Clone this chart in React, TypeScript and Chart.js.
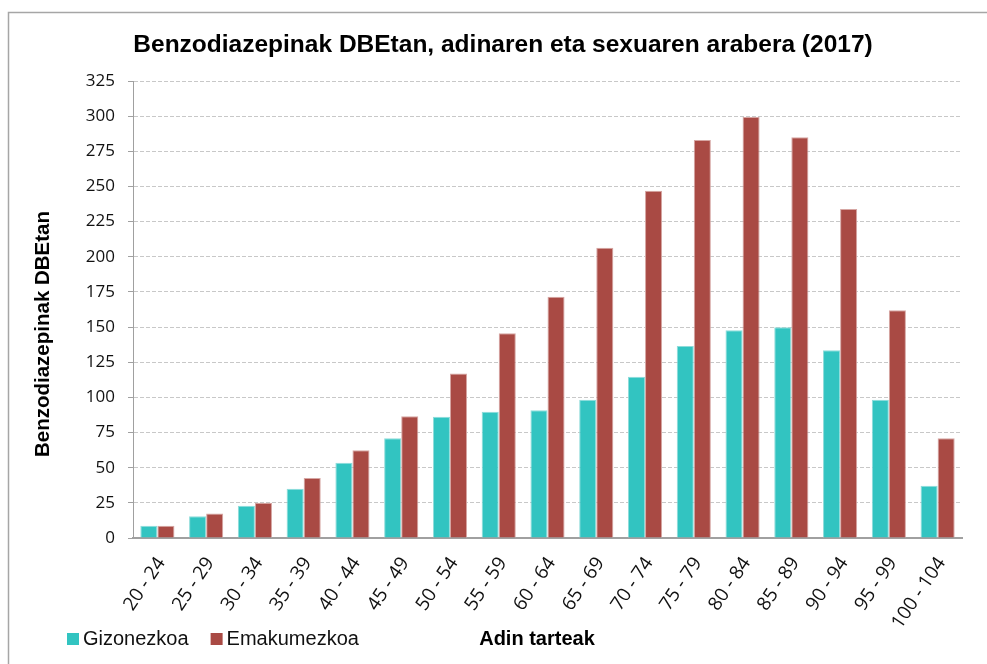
import React, { useEffect, useRef } from "react";
import { Chart, registerables } from "chart.js";

Chart.register(...registerables);

const categories = [
  "20 - 24", "25 - 29", "30 - 34", "35 - 39", "40 - 44", "45 - 49", "50 - 54", "55 - 59",
  "60 - 64", "65 - 69", "70 - 74", "75 - 79", "80 - 84", "85 - 89", "90 - 94", "95 - 99", "100 - 104",
];
const gizonezkoa = [8.8, 15.4, 23, 35, 53.5, 71, 86.3, 89.8, 90.8, 98.4, 114.7, 136.5, 147.7, 149.8, 133.5, 98.4, 37.2];
const emakumezkoa = [8.8, 17.5, 25, 42.7, 62.4, 86.5, 117, 145.6, 171.6, 206.5, 247, 283, 299.4, 285, 234, 162, 71];
const seriesNames = ["Gizonezkoa", "Emakumezkoa"];
const seriesColors = ["#32C4C1", "#A94A44"];
const seriesEdge = ["#8EDCDA", "#D6A6A3"];
const yMin = 0;
const yMax = 325;
const yStep = 25;
const titleText = "Benzodiazepinak DBEtan, adinaren eta sexuaren arabera (2017)";
const yTitleText = "Benzodiazepinak DBEtan";
const xTitleText = "Adin tarteak";

const ARIAL = '"Liberation Sans", Arial, sans-serif';
const TICKFONT = '"Open Sans", "Liberation Sans", sans-serif';

const decorPlugin = {
  id: "decor",
  beforeDraw(chart: any) {
    const ctx = chart.ctx;
    ctx.save();
    ctx.fillStyle = "#ffffff";
    ctx.fillRect(0, 0, chart.width, chart.height);
    ctx.strokeStyle = "#a6a6a6";
    ctx.lineWidth = 1.5;
    ctx.beginPath();
    ctx.moveTo(8.5, chart.height + 2);
    ctx.lineTo(8.5, 12.5);
    ctx.lineTo(chart.width + 2, 12.5);
    ctx.stroke();
    ctx.restore();
  },
  afterDraw(chart: any) {
    const ctx = chart.ctx;
    ctx.save();
    ctx.fillStyle = "#000000";
    ctx.textBaseline = "middle";
    ctx.textAlign = "center";
    ctx.font = "bold 24.5px " + ARIAL;
    ctx.fillText(titleText, 503, 45);

    // y axis title
    ctx.save();
    ctx.translate(43, 334);
    ctx.rotate(-Math.PI / 2);
    ctx.font = "bold 20.5px " + ARIAL;
    ctx.fillText(yTitleText, 0, 0);
    ctx.restore();

    // legend
    ctx.textAlign = "left";
    ctx.font = "20px " + ARIAL;
    let x = 67;
    chart.data.datasets.forEach((ds: any) => {
      ctx.fillStyle = ds.backgroundColor;
      ctx.fillRect(x, 633, 12, 12);
      ctx.fillStyle = "#111111";
      ctx.fillText(ds.label, x + 16, 639);
      x += 16 + ctx.measureText(ds.label).width + 22;
    });

    // x axis title
    ctx.textAlign = "center";
    ctx.font = "bold 20px " + ARIAL;
    ctx.fillStyle = "#000000";
    ctx.fillText(xTitleText, 537, 639);
    ctx.restore();
  },
};

export default function App() {
  const canvasRef = useRef<HTMLCanvasElement | null>(null);

  useEffect(() => {
    if (!canvasRef.current) return;
    const chart = new Chart(canvasRef.current, {
      type: "bar",
      data: {
        labels: categories,
        datasets: [
          {
            label: seriesNames[0],
            data: gizonezkoa,
            backgroundColor: seriesColors[0],
            borderColor: seriesEdge[0],
            borderWidth: 1,
          },
          {
            label: seriesNames[1],
            data: emakumezkoa,
            backgroundColor: seriesColors[1],
            borderColor: seriesEdge[1],
            borderWidth: 1,
          },
        ],
      },
      options: {
        responsive: false,
        animation: false,
        devicePixelRatio: 1,
        layout: { padding: { top: 81, right: 25, bottom: 0, left: 0 } },
        datasets: {
          bar: { categoryPercentage: 0.7, barPercentage: 1.0 },
        },
        plugins: {
          legend: { display: false },
          title: { display: false },
          tooltip: { enabled: false },
        },
        scales: {
          x: {
            grid: { display: false, drawTicks: false },
            border: { display: true, color: "#a0a0a0", width: 2 },
            ticks: {
              autoSkip: false,
              minRotation: 56,
              maxRotation: 56,
              padding: 15,
              labelOffset: 4,
              color: "#111111",
              font: { size: 19, family: TICKFONT },
            },
            afterFit: (s: any) => {
              s.height = 126;
            },
          },
          y: {
            min: yMin,
            max: yMax,
            ticks: {
              stepSize: yStep,
              padding: 13,
              color: "#111111",
              font: { size: 17, family: TICKFONT },
            },
            grid: {
              color: "#c8c8c8",
              lineWidth: 1,
              tickLength: 5,
              tickColor: "#a0a0a0",
              tickBorderDash: [],
            },
            border: { display: true, color: "#a0a0a0", width: 1, dash: [4, 2] },
            title: { display: false },
            afterFit: (s: any) => {
              s.width = 133;
            },
          },
        },
      } as any,
      plugins: [decorPlugin],
    });
    return () => chart.destroy();
  }, []);

  return (
    <div style={{ position: "fixed", left: 0, top: 0, width: 987, height: 664, background: "#fff" }}>
      <canvas ref={canvasRef} width={987} height={664} style={{ display: "block" }} />
    </div>
  );
}
